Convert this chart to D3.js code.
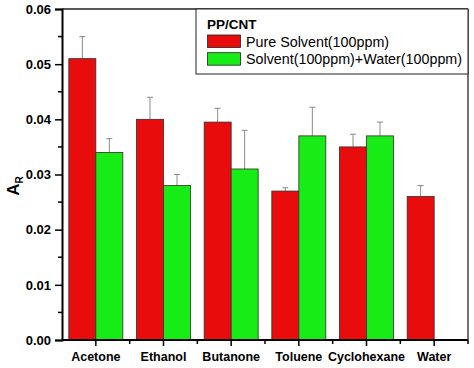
<!DOCTYPE html>
<html><head><meta charset="utf-8">
<script src="https://cdn.jsdelivr.net/npm/d3@7/dist/d3.min.js"></script>
<style>body{margin:0;background:#fff;}svg{display:block;font-family:Arial,"Liberation Sans",sans-serif;}</style>
</head><body>
<svg id="c" width="474" height="368"></svg>
<script>
const categories = ["Acetone","Ethanol","Butanone","Toluene","Cyclohexane","Water"];
const seriesNames = ["Pure Solvent(100ppm)","Solvent(100ppm)+Water(100ppm)"];
const pureValues = [0.051,0.040,0.0395,0.027,0.035,0.026];
const pureErrors = [0.004,0.004,0.0025,0.0006,0.0023,0.002];
const waterValues = [0.034,0.028,0.031,0.037,0.037,null];
const waterErrors = [0.0025,0.002,0.007,0.0052,0.0025,null];
const yTicks = [0,0.01,0.02,0.03,0.04,0.05,0.06];
const legendTitle = "PP/CNT";
const colors = ["#e80c0c","#17ec17"];

const svg = d3.select("#c");
const L=62,R=468,T=9,B=340;
const x = d3.scaleBand().domain(categories).range([L,R]).padding(0);
const y = d3.scaleLinear().domain([0,0.06]).range([B,T]);
const bw = 27;
const series = [
  {vals:pureValues, errs:pureErrors, off:-bw},
  {vals:waterValues, errs:waterErrors, off:0}
];
series.forEach((s,si)=>{
  const data = categories.map((c,i)=>({c,v:s.vals[i],e:s.errs[i]})).filter(d=>d.v!=null);
  const g = svg.append("g");
  const cx = d=>x(d.c)+x.bandwidth()/2+s.off+bw/2;
  g.selectAll("line.err").data(data).enter().append("line")
    .attr("x1",cx).attr("x2",cx)
    .attr("y1",d=>y(d.v)).attr("y2",d=>y(d.v+d.e)).attr("stroke","#8a8a8a").attr("stroke-width",1);
  g.selectAll("line.cap").data(data).enter().append("line")
    .attr("x1",d=>cx(d)-3).attr("x2",d=>cx(d)+3)
    .attr("y1",d=>y(d.v+d.e)).attr("y2",d=>y(d.v+d.e)).attr("stroke","#8a8a8a").attr("stroke-width",1);
  g.selectAll("rect").data(data).enter().append("rect")
    .attr("x",d=>x(d.c)+x.bandwidth()/2+s.off).attr("width",bw)
    .attr("y",d=>y(d.v)).attr("height",d=>B-y(d.v))
    .attr("fill",colors[si]).attr("stroke","#3a2a2a").attr("stroke-width",0.8);
});

svg.append("line").attr("x1",L).attr("x2",R).attr("y1",T).attr("y2",T).attr("stroke","#222").attr("stroke-width",1.5);
svg.append("line").attr("x1",R).attr("x2",R).attr("y1",T).attr("y2",B).attr("stroke","#444").attr("stroke-width",1.5);

const yAxis = d3.axisLeft(y).tickValues(yTicks).tickFormat(d3.format(".2f")).tickSize(7).tickPadding(4);
const gy = svg.append("g").attr("transform",`translate(${L},0)`).call(yAxis);
gy.select(".domain").attr("stroke","#000").attr("stroke-width",2);
gy.selectAll(".tick line").attr("stroke","#000").attr("stroke-width",1.5);
gy.selectAll("text").attr("font-size",13).attr("font-weight","bold").attr("fill","#000");
const minorY = d3.range(0.005,0.06,0.01);
svg.append("g").selectAll("line").data(minorY).enter().append("line")
  .attr("x1",L-4).attr("x2",L).attr("y1",d=>y(d)).attr("y2",d=>y(d)).attr("stroke","#000").attr("stroke-width",1.5);

const xAxis = d3.axisBottom(x).tickSize(6).tickPadding(6);
const gx = svg.append("g").attr("transform",`translate(0,${B})`).call(xAxis);
gx.select(".domain").attr("stroke","#000").attr("stroke-width",2).attr("d",`M${L},0H${R}`);
gx.selectAll(".tick line").attr("stroke","#000").attr("stroke-width",1.5);
gx.selectAll("text").attr("font-size",12.5).attr("font-weight","bold").attr("fill","#000");
const minorX = categories.slice(1).map(c=>x(c));
minorX.push(R);
svg.append("g").selectAll("line").data(minorX).enter().append("line")
  .attr("x1",d=>d).attr("x2",d=>d).attr("y1",B).attr("y2",B+4).attr("stroke","#000").attr("stroke-width",1.5);

const yl = svg.append("text").attr("transform","translate(19,186) rotate(-90)").attr("text-anchor","middle")
  .attr("font-size",17).attr("font-weight","bold");
yl.append("tspan").text("A");
yl.append("tspan").text("R").attr("font-size",10).attr("dy",4);

const lg = svg.append("g");
lg.append("rect").attr("x",196).attr("y",T).attr("width",R-196).attr("height",65)
  .attr("fill","#fff").attr("stroke","#222").attr("stroke-width",1);
lg.append("text").attr("x",207).attr("y",29).text(legendTitle).attr("font-size",13.5).attr("font-weight","bold");
seriesNames.forEach((n,i)=>{
  const yy = 35+i*17.7;
  lg.append("rect").attr("x",207.5).attr("y",yy).attr("width",33).attr("height",12.5)
    .attr("fill",colors[i]).attr("stroke","#222").attr("stroke-width",0.8);
  lg.append("text").attr("x",246).attr("y",yy+11.5).text(n).attr("font-size",14.3);
});
</script>
</body></html>
